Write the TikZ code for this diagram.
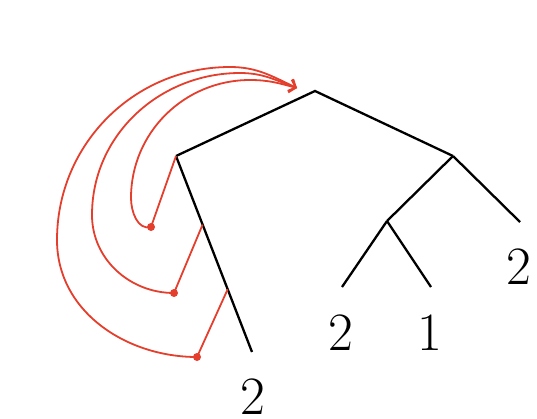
\documentclass[tikz,border=0pt]{standalone}
\usetikzlibrary{arrows.meta,calc}
\definecolor{redc}{RGB}{228,62,44}
\begin{document}
\begin{tikzpicture}[x=1pt,y=-1pt,
  edge/.style={line width=2.3pt,black},
  redl/.style={line width=1.8pt,redc},
  dotc/.style={circle,fill=redc,inner sep=0pt,minimum size=8pt},
  lab/.style={inner sep=0pt,font=\fontsize{54}{60}\selectfont},
  tip/.style={-{Straight Barb[length=6pt,width=13pt]}}]
\useasboundingbox (0,0) rectangle (537,418);
% tree nodes
\coordinate (R) at (315,91);
\coordinate (L) at (176,156);
\coordinate (Rc) at (453,156);
\coordinate (LL) at (252,352);
\coordinate (M) at (387,221);
\coordinate (RR) at (520,222);
\coordinate (M1) at (342,287);
\coordinate (M2) at (431,287);
\draw[edge,line join=miter] (L) -- (R) -- (Rc);
\draw[edge] (L) -- (LL);
\draw[edge] (Rc) -- (M);
\draw[edge] (Rc) -- (RR);
\draw[edge] (M) -- (M1);
\draw[edge] (M) -- (M2);
\node[lab] (t1) at (253,397) {2};
\node[lab] (t2) at (341,333) {2};
\node[lab] (t3) at (430,333) {1};
\node[lab] (t4) at (519,267) {2};
% red pointers
\coordinate (P2) at ($(L)!0.35!(LL)$);
\coordinate (P3) at ($(L)!0.68!(LL)$);
\node[dotc] (d1) at (151,227) {};
\node[dotc] (d2) at (174,293) {};
\node[dotc] (d3) at (197,357) {};
\coordinate (A) at (297,88);
\draw[redl] (L) -- (d1.center);
\draw[redl] (P2) -- (d2.center);
\draw[redl] (P3) -- (d3.center);
\draw[redl,tip] (d1.center) to[out=195,in=270] (131,198) to[out=90,in=180] (250,80) to[out=0,in=165] (A);
\draw[redl,tip] (d2.center) to[out=180,in=270] (92,215) to[out=90,in=180] (240,73) to[out=0,in=160] (A);
\draw[redl,tip] (d3.center) to[out=180,in=270] (57,240) to[out=90,in=180] (230,67) to[out=0,in=155] (A);
\end{tikzpicture}
\end{document}
